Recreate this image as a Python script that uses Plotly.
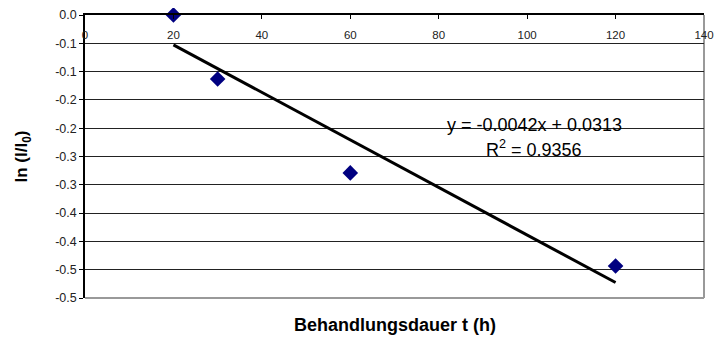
import plotly.graph_objects as go

# data
hours = [20, 30, 60, 120]
ln_ratio = [0.0, -0.113, -0.279, -0.4435]
slope = -0.0042
intercept = 0.0313
r_squared = 0.9356
fit_x = [20, 120]

y_tickvals = [0.0, -0.05, -0.1, -0.15, -0.2, -0.25, -0.3, -0.35, -0.4, -0.45, -0.5]
y_ticktext = ["0.0", "-0.1", "-0.1", "-0.2", "-0.2", "-0.3", "-0.3", "-0.4", "-0.4", "-0.5", "-0.5"]
x_tickvals = [0, 20, 40, 60, 80, 100, 120, 140]

FONT = "Liberation Sans, Arial, sans-serif"

fit_y = [slope * x + intercept for x in fit_x]

fig = go.Figure()
fig.add_trace(go.Scatter(x=fit_x, y=fit_y, mode="lines",
                         line=dict(color="black", width=3), showlegend=False,
                         cliponaxis=False))
fig.add_trace(go.Scatter(x=hours, y=ln_ratio, mode="markers",
                         marker=dict(symbol="diamond", size=12, color="#000080",
                                     line=dict(width=0)),
                         showlegend=False, cliponaxis=False))
# dummy trace to activate xaxis2 (tick labels below the top axis line)
fig.add_trace(go.Scatter(x=[None], y=[None], xaxis="x2", yaxis="y", showlegend=False))

# the page body has an 8px margin, so the figure is sized to fit inside it
fig.update_layout(
    width=717, height=332,
    margin=dict(l=77, r=21, t=7, b=42),
    paper_bgcolor="white", plot_bgcolor="white",
    font=dict(family=FONT, color="black", size=11),
    xaxis=dict(range=[0, 140], side="top", tickvals=x_tickvals, automargin=False,
               showticklabels=False, ticks="inside", ticklen=4, tickcolor="black",
               showline=True, linecolor="black", linewidth=1.5,
               showgrid=False, zeroline=False),
    xaxis2=dict(range=[0, 140], overlaying="x", side="bottom", anchor="free",
                position=0.96, tickvals=x_tickvals, automargin=False,
                ticktext=[str(v) for v in x_tickvals],
                showline=False, showgrid=False, zeroline=False, ticks="",
                tickfont=dict(size=11.5, color="#222")),
    yaxis=dict(range=[-0.5, 0.0], tickvals=y_tickvals, ticktext=y_ticktext,
               automargin=False,
               ticks="outside", ticklen=4, tickcolor="black",
               showline=True, linecolor="black", linewidth=1.5,
               showgrid=True, gridcolor="#222", gridwidth=1, zeroline=False,
               tickfont=dict(size=12.5, color="#222"),
               title=dict(text="<b>ln (I/I<sub>0</sub>)</b>", font=dict(size=17),
                          standoff=23)),
)

# plot area border (gray) on right & bottom
fig.add_shape(type="line", xref="x domain", yref="y domain", x0=1, x1=1, y0=0, y1=1,
              line=dict(color="#999", width=2), layer="below")
fig.add_shape(type="line", xref="x domain", yref="y domain", x0=0, x1=1, y0=0, y1=0,
              line=dict(color="#999", width=2), layer="below")

fig.add_annotation(xref="paper", yref="paper", x=0.5, y=-0.095, yanchor="middle",
                   text="<b>Behandlungsdauer t (h)</b>", showarrow=False,
                   font=dict(size=18, family=FONT))

fig.add_annotation(xref="x", yref="y", x=101.6, y=-0.194, yanchor="middle",
                   text=f"y = {slope:.4f}x + {intercept:.4f}",
                   showarrow=False, font=dict(size=18, family=FONT))
fig.add_annotation(xref="x", yref="y", x=101.6, y=-0.235, yanchor="middle",
                   text=f"R<sup>2</sup> = {r_squared:.4f}",
                   showarrow=False, font=dict(size=18, family=FONT))

fig.write_html("out.html")
